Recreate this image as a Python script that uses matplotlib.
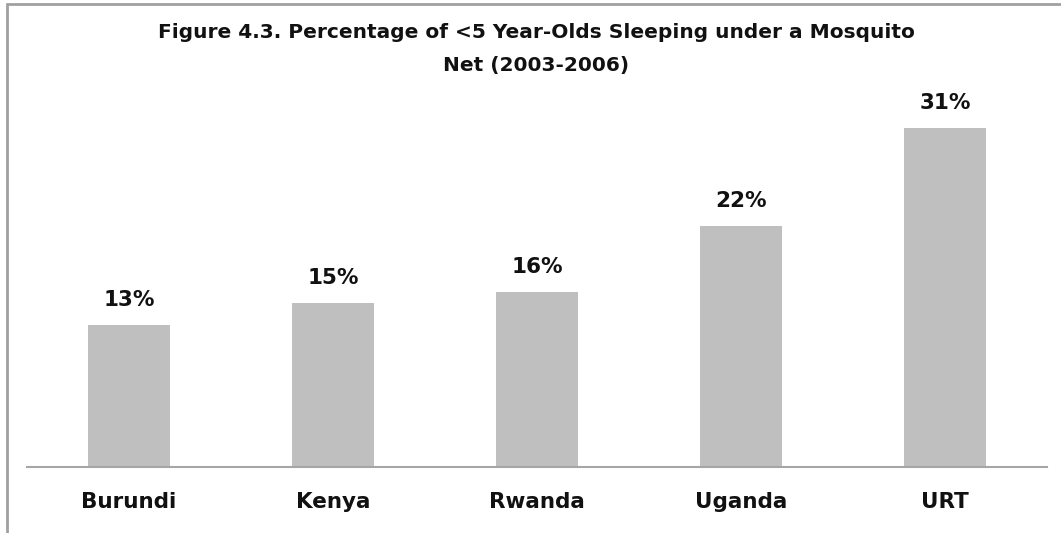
import numpy as np
import matplotlib.pyplot as plt
from matplotlib.patches import Rectangle

countries = ['Burundi', 'Kenya', 'Rwanda', 'Uganda', 'URT']
pct = [13, 15, 16, 22, 31]

plt.rcParams['font.family'] = ['DejaVu Sans']

W, H = 1061, 533
fig = plt.figure(figsize=(W / 100, H / 100), dpi=100)
ax = fig.add_axes([27 / W, 1 - 467 / H, (1047 - 27) / W, (467 - 84) / H])

x = np.arange(len(countries))
ax.bar(x, pct, width=0.4, color='#bfbfbf')
for xi, v in zip(x, pct):
    ax.annotate('{0}%'.format(v), (xi, v), xytext=(0, 18), textcoords='offset points',
                ha='center', va='center', fontsize=15.5, fontweight='bold', color='#111111')

ax.set_xlim(-0.5, len(countries) - 0.5)
ax.set_ylim(0, 35)
ax.set_xticks(x)
ax.set_xticklabels(countries, fontsize=15.5, fontweight='bold', color='#111111')
ax.tick_params(axis='x', length=0, pad=18)
ax.set_yticks([])
for s in ['top', 'right', 'left']:
    ax.spines[s].set_visible(False)
ax.spines['bottom'].set_color('#a6a6a6')
ax.spines['bottom'].set_linewidth(1.5)

title_font = dict(ha='center', va='center', fontsize=14.5, fontweight='bold', color='#111111')
fig.text(536 / W, 1 - 33 / H, 'Figure 4.3. Percentage of <5 Year-Olds Sleeping under a Mosquito', **title_font)
fig.text(536 / W, 1 - 66 / H, 'Net (2003-2006)', **title_font)

# outer chart border (cut off at right/bottom)
fig.patches.append(Rectangle((7 / W, -0.1), 1.2, 1 - 4 / H + 0.1, transform=fig.transFigure,
                             fill=False, edgecolor='#a0a0a0', linewidth=2))

fig.savefig('out.png', dpi=100)
